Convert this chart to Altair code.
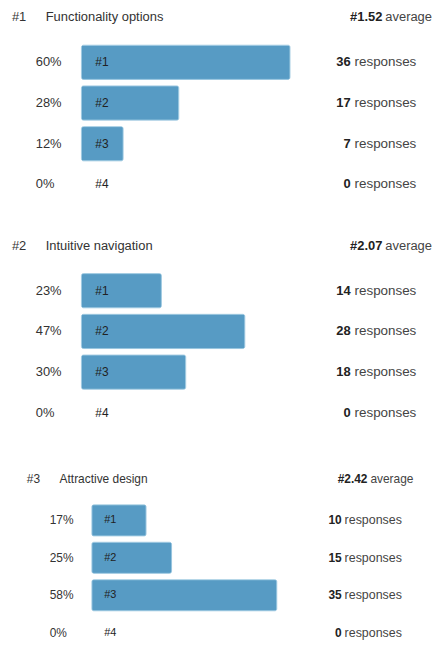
import altair as alt
import pandas as pd

ranks = ["#1", "#2", "#3", "#4"]
question_ranks = ["#1", "#2", "#3"]
questions = ["Functionality options", "Intuitive navigation", "Attractive design"]
averages = ["#1.52", "#2.07", "#2.42"]
pct_q1 = [60, 28, 12, 0]
pct_q2 = [23, 47, 30, 0]
pct_q3 = [17, 25, 58, 0]
resp_q1 = [36, 17, 7, 0]
resp_q2 = [14, 28, 18, 0]
resp_q3 = [10, 15, 35, 0]

FONT = "Liberation Sans"
BAR = "#579bc4"

layouts = [
    dict(h=230, fs=13, wfs=13.5, title_y=15, qn_x=12, q_x=46, y_range=[40, 204], pi=0.16,
         x_range=[82, 432], pct_x=36, rank_x=96, num_x=353, word_x=357, avg_x=385, avgw_x=388),
    dict(h=230, fs=13, wfs=13.5, title_y=15, qn_x=12, q_x=46, y_range=[40, 204], pi=0.16,
         x_range=[82, 432], pct_x=36, rank_x=96, num_x=353, word_x=357, avg_x=385, avgw_x=388),
    dict(h=185, fs=12, wfs=12.5, title_y=20, qn_x=27, q_x=60, y_range=[42.9, 193.7], pi=0.17,
         x_range=[92.5, 413.5], pct_x=50, rank_x=105, num_x=344, word_x=347, avg_x=370, avgw_x=373),
]

pcts = [pct_q1, pct_q2, pct_q3]
resps = [resp_q1, resp_q2, resp_q3]


def panel(i):
    L = layouts[i]
    df = pd.DataFrame({
        "rank": ranks,
        "pct": pcts[i],
        "resp": resps[i],
    })
    df["frac"] = df["pct"] / 100.0
    df["pct_label"] = df["pct"].astype(str) + "%"
    df["resp_label"] = df["resp"].astype(str)
    df["word"] = "responses"

    yenc = alt.Y("rank:N", sort=ranks, axis=None,
                 scale=alt.Scale(range=L["y_range"], paddingInner=L["pi"], paddingOuter=L["pi"] / 2))
    base = alt.Chart(df)
    bars = base.transform_filter("datum.frac > 0").mark_bar(
        color=BAR, cornerRadius=2, stroke="#8fc0dc", strokeWidth=0.8
    ).encode(
        x=alt.X("frac:Q", axis=None, scale=alt.Scale(domain=[0, 1], range=L["x_range"])),
        y=yenc,
    )
    fs = L["fs"]
    pct_t = base.mark_text(align="left", baseline="middle", font=FONT, fontSize=fs, color="#333").encode(
        x=alt.value(L["pct_x"]), y=yenc, text="pct_label:N")
    rank_t = base.mark_text(align="left", baseline="middle", font=FONT, fontSize=fs - 1, color="#222").encode(
        x=alt.value(L["rank_x"]), y=yenc, text="rank:N")
    num_t = base.mark_text(align="right", baseline="middle", font=FONT, fontSize=fs, fontWeight="bold",
                           color="#222").encode(x=alt.value(L["num_x"]), y=yenc, text="resp_label:N")
    word_t = base.mark_text(align="left", baseline="middle", font=FONT, fontSize=L["wfs"], color="#444").encode(
        x=alt.value(L["word_x"]), y=yenc, text="word:N")

    tdf = pd.DataFrame({"qn": [question_ranks[i]], "q": [questions[i]], "avg": [averages[i]], "w": ["average"]})
    tb = alt.Chart(tdf)
    qn_t = tb.mark_text(align="left", baseline="middle", font=FONT, fontSize=fs, color="#333").encode(
        x=alt.value(L["qn_x"]), y=alt.value(L["title_y"]), text="qn:N")
    q_t = tb.mark_text(align="left", baseline="middle", font=FONT, fontSize=fs, color="#333").encode(
        x=alt.value(L["q_x"]), y=alt.value(L["title_y"]), text="q:N")
    avg_t = tb.mark_text(align="right", baseline="middle", font=FONT, fontSize=fs, fontWeight="bold",
                         color="#222").encode(x=alt.value(L["avg_x"]), y=alt.value(L["title_y"]), text="avg:N")
    avgw_t = tb.mark_text(align="left", baseline="middle", font=FONT, fontSize=fs, color="#444").encode(
        x=alt.value(L["avgw_x"]), y=alt.value(L["title_y"]), text="w:N")

    return alt.layer(bars, pct_t, rank_t, num_t, word_t, qn_t, q_t, avg_t, avgw_t).properties(
        width=432, height=L["h"])


chart = alt.vconcat(panel(0), panel(1), panel(2), spacing=0).resolve_scale(
    x="independent", y="independent"
).properties(padding=0, background="white").configure_view(stroke=None)

chart.save("out.html", embed_options={"renderer": "svg", "actions": False})
